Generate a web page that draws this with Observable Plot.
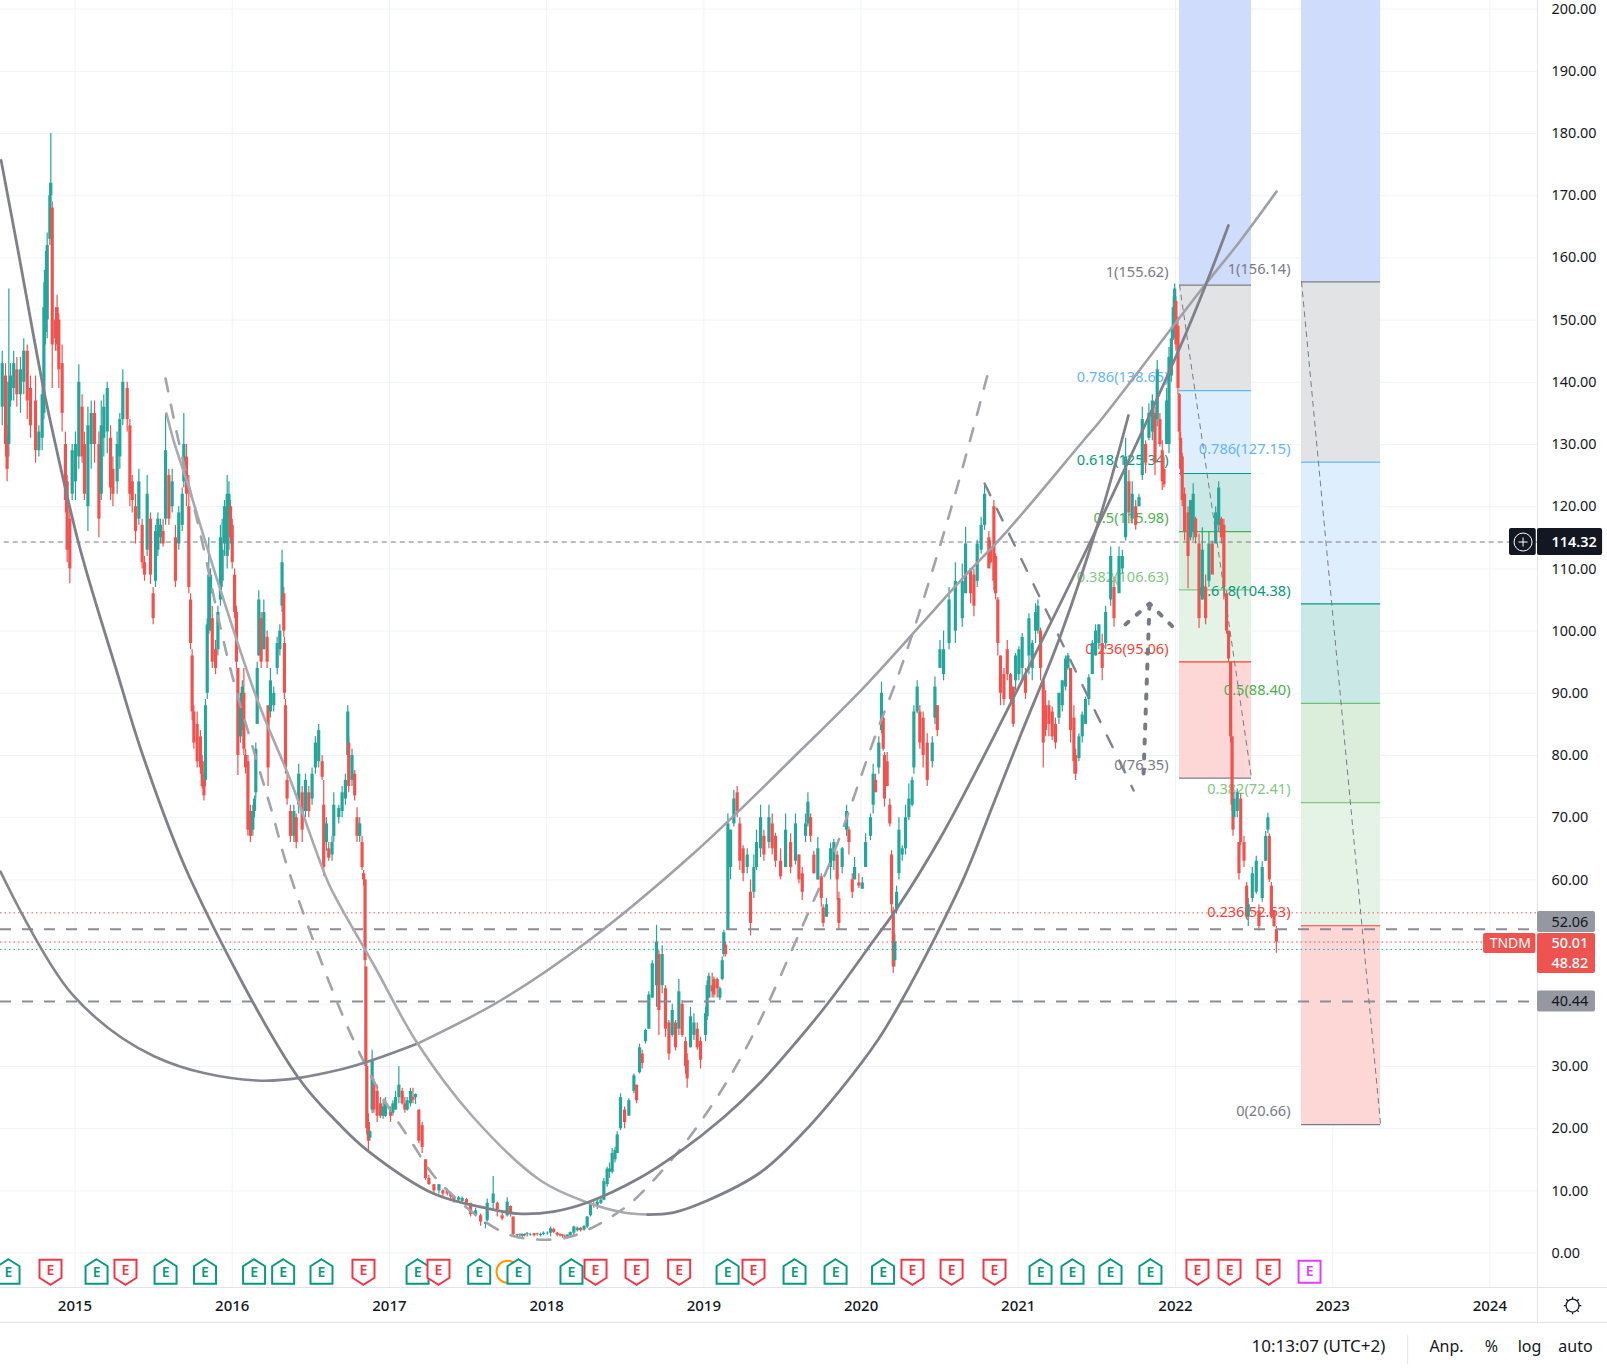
<!DOCTYPE html>
<html><head><meta charset="utf-8">
<style>html,body{margin:0;padding:0;background:#fff}svg{display:block}</style>
<script src="https://cdn.jsdelivr.net/npm/d3@7"></script>
<script src="https://cdn.jsdelivr.net/npm/@observablehq/plot@0.6"></script>
</head><body><div id="chart"></div>
<script>
// candle rows: [fraction of year, open, close, high, low]
const bars2014=[[.537,136,143,145,133],[.558,141,130,143,128],[.568,131,126,133,124],[.579,130,140,155,128],[.59,137,141,143,136],[.61,139,143,145,137],[.63,142,138,144,136],[.653,138,142,144,135],[.674,140,145,147,138],[.696,145,137,146,134],[.717,139,133,141,131],[.749,137,129,141,127],[.77,129,132,133,128],[.791,131,138,140,129],[.802,135,152,156,134],[.812,148,158,161,146],[.823,150,162,164,147],[.84,163,170,172,162],[.846,170,172,180,169],[.855,168,146,169,139],[.876,150,147,152,145],[.886,152,146,154,145],[.897,150,142,151,139],[.918,143,135,146,132],[.939,130,121,132,119],[.95,124,113,125,111],[.967,118,110,120,107.6],[.982,122,129,130,121]];
const bars2015=[[.003,124,130,132,121],[.024,128,140,142.8,126],[.045,136,128,138,127],[.06,130,122,132,121],[.082,120,133,136,116],[.103,130,135,137,126],[.124,135,130,137,127],[.152,130,118,132,115],[.167,122,133,137,121],[.183,131,136,138,128],[.205,132,139,140,128.5],[.226,131,123,133,121],[.241,126,122,128,120],[.268,124,130,132,122],[.285,128,134,135,126],[.304,134,140,142,133],[.332,139,134,140,132],[.349,133,122,134,120],[.364,124,121,125,119],[.385,120,116,122,114],[.406,118,124,126,117],[.427,117,111,118,110],[.442,111,109,112,108],[.459,113,122,125,112],[.48,118,109,119,107.5],[.497,106,102,107,101],[.512,108,116,117,107],[.527,113,118,119,112],[.544,115,117,118,114],[.56,116,114,118,113.5],[.576,118,129,135,117],[.597,125,118,126,117],[.618,120,124,126,119],[.639,115,108,117,107],[.66,114,119,120,113],[.682,117,122,123,116],[.692,124,130,135,123],[.709,128,122,130,120],[.724,120,107,125,106],[.735,105,98,106,97],[.745,96,87,97,85.6],[.756,87,82,88,81],[.777,85,79,87,78],[.798,83,78,84,77],[.809,79,75,80,74.6],[.82,76,73.5,77,72.7],[.83,76,88,89,75],[.841,90,101,102,89],[.851,100,109,115,99.5],[.862,106,109,110,100],[.873,102,95,104,94],[.894,97,94,98.5,93],[.909,97,103,104,96],[.925,105,115,117,104],[.936,108,113,118,107],[.951,114,120,121,112],[.968,112,122,125,110],[.979,118,122,124,113],[.989,120,115,121,114]];
const bars2016=[[0,117,111,118,110],[.015,109,103,110,102],[.027,103,95,104,94],[.036,94,80,94,76.8],[.053,83,89,90,82],[.064,85,91,92,84],[.074,90,81,94,80],[.085,80,78,81,77],[.1,79,68,80,67],[.116,71,67,72,66],[.131,68,71,72,67],[.142,71,73,73.5,70],[.15,74,81,82,73],[.159,85,94,95,85],[.169,96,105,106.5,96],[.184,102,95,103,94],[.201,97,103,105,97],[.222,99,95,100,94],[.228,88,78,88,75],[.243,87,92,94,86],[.264,88,90,91,87],[.286,94,98,99,93],[.303,97,100,101,96],[.317,104,111,113,103],[.328,106,100,107,99],[.332,98,90,99,89],[.339,88,78,89,77],[.349,76,73,77,72],[.37,71,67,72,66],[.392,67,71,72,66],[.407,70,66,70.6,65],[.423,72,77,78.6,70.6],[.445,74,68,75,66],[.466,71,76,77,70],[.487,74,71,75,70],[.508,73,77,78,72],[.529,78,82,83,77],[.55,79,84,85,78],[.572,79,76.5,80,76],[.582,72,62,76,60.6],[.599,66,69,70,64.6],[.614,65,63.5,66,63],[.635,64,66,67,63],[.646,67,72,74,66],[.678,70,71.5,72,69],[.699,71,74,75,70],[.72,73,76,77,72],[.735,80,87,88,80],[.741,82,75,83,74],[.762,76,80,81,75],[.779,77,73.5,77.6,72.7],[.794,70,67,71.6,66],[.811,67,69,70,66],[.826,66,62,67,61.5],[.836,61,60,61.5,59],[.845,60,47,60,46],[.85,46,30,46,30],[.856,30,20,30,19],[.866,21,18,22.4,16.5],[.876,18.5,19.5,19.7,18],[.89,23,31,32.6,22.4],[.901,27,23,28,22.5],[.922,26,22,27,21],[.943,24,22,25,21.6],[.96,22,23.5,24.5,21.5],[.975,22,24,25,21.8]];
const bars2017=[[.007,23,22,23.5,21],[.022,22.5,24,24.5,22],[.039,23,25,26,23],[.06,25,27,30,24],[.081,26,24,26.5,23.8],[.098,24,23,25,22.5],[.113,23,24.5,25,22.8],[.134,24,26,26.5,23.5],[.15,25,24.6,26.5,24],[.166,25,25.5,25.6,23.9],[.187,23,18,23,17.6],[.208,20.5,17,21,16],[.23,15,12,15,11.7],[.251,12,11,12.5,10.9],[.283,11,10,11,9.5],[.315,10,11,11,9.5],[.34,10,9.5,10.2,9.1],[.368,10,9.5,10.3,9.2],[.39,9.5,9,9.8,8.6],[.41,9,8.5,9.2,8],[.44,8.5,8.9,9.1,8.3],[.463,8.3,8.8,9,8.2],[.49,8.6,8,8.8,7.6],[.516,8,6.2,8,5.8],[.548,6,6.8,7.2,5.8],[.58,6,5,6.3,4.3],[.611,4.6,4.9,5,3.9],[.622,5.2,8,8.7,5],[.66,8,9.5,12.3,7],[.686,8,7,8.2,5.8],[.717,6,5.5,6.8,5.2],[.749,6,8.2,8.9,5.8],[.77,7.5,6.2,7.6,5.8],[.787,5.8,3,5.8,2.6],[.813,3,2.8,3,2.5],[.83,2.8,2.9,3.1,2.6],[.845,2.7,3,3.1,2.5],[.86,3,2.8,3.1,2.6],[.876,3,3.1,3.3,2.6],[.895,2.9,3,3.2,2.7],[.92,3.1,2.8,3.2,2.6],[.94,3.1,3,3.2,2.7],[.961,2.8,3,3.2,2.6],[.98,3,3.2,3.4,2.8]];
const bars2018=[[.005,3.1,3.2,3.4,2.9],[.025,3.2,3.9,4.2,2.6],[.045,3.8,3.3,4,3.1],[.067,3.2,2.9,3.3,2.6],[.085,3,2.8,3.1,2.6],[.1,2.9,2.7,3,2.4],[.115,2.7,2.6,2.9,2.4],[.131,2.6,2.9,2.9,2.3],[.15,2.8,3.3,3.4,2.6],[.173,3.2,4.2,4.3,2.8],[.195,3.6,4,4.2,3.4],[.216,4,3.6,4.1,3.4],[.238,3.7,4.3,4.4,3.5],[.258,4.2,5.8,5.9,3.9],[.279,6,8,8.1,5.8],[.3,7.8,7.6,8.2,7.2],[.322,7.5,8.2,8.5,7],[.345,8,8.5,9,7.8],[.364,8.5,11.5,12,8.4],[.385,11,13.5,13.8,10.6],[.4,13,13.5,14.5,12],[.417,13,16,16.8,12.7],[.435,15,16.5,17,14.5],[.449,16,19,19.5,16],[.47,20,25,25.6,19.7],[.496,23,21,23.5,20],[.523,22,24.5,24.8,22.4],[.555,26,28.5,28.8,25.6],[.572,27,24.5,27,24],[.591,29,33,33.6,28.8],[.608,32,30.5,32.6,29.6],[.629,34,35.8,36,33.6],[.65,36,41.5,42,36],[.672,41,46.5,47,41],[.699,43,50,52.7,39.5],[.714,48,39,48.6,35],[.735,43,48,49.4,41.7],[.756,42.5,36,43,34.7],[.778,37,32,37.4,31],[.799,35,39,40,34.7],[.82,37,33,37.4,32.5],[.841,36,42,44,35],[.862,40,35,40.6,34.7],[.884,34,30,34.7,28.8],[.894,31,28,32,26.5],[.915,33,38,39.5,33],[.937,35,37,38.5,34.2],[.958,36,33,37,32.6],[.979,34,31,34.7,29.6]];
const bars2019=[[.011,35,38.5,39.5,34],[.021,38,43,43.8,37.4],[.032,41,44.5,45,41],[.053,43,42,45,41],[.064,44,41.5,44.4,41],[.085,44,42.5,44.2,41],[.102,41,42.5,42.8,40.6],[.117,44,47,47.6,43.8],[.127,48,51.5,51.9,47.6],[.138,49.5,48,50,47.6],[.153,52,69,70.6,51.9],[.17,62,68,68,60],[.191,69,73,74.4,68.5],[.212,74,71,75,70],[.229,69,63,70,61.5],[.25,65,61,65.5,59.7],[.276,62,64,65,61],[.297,58,53,60,51],[.318,58,62,64,57],[.335,62,66,68,61.5],[.361,65,70,72,63.6],[.382,67,64,68,63],[.414,66,70,72,65],[.435,69,65,70.6,64],[.456,67,63,67.5,62],[.488,63,60.5,65,60],[.52,62,68,70.6,62],[.552,66,62,67.4,61],[.583,63,69,70.6,62.4],[.605,64,60,64,59.4],[.626,61,58,62,56.7],[.647,67,69,70.6,66],[.662,69,72.5,74,68.5],[.679,70,67,70.6,66],[.7,64,61,64.6,60.9],[.725,60,65,66.8,59.9],[.747,60.5,57,61,55.6],[.759,55.5,53,56,52.4],[.78,54,56,57,54],[.806,62,65,65.9,60],[.827,63,66,66.5,61.5],[.848,64,60,64.6,56.7],[.859,57,53,58,52],[.88,62,65,65.2,61],[.908,68,71,72,67],[.923,68,66,68.5,64],[.944,60,58,61,57],[.959,60,62,63.6,60],[.986,59.5,59,61,58.6]];
const bars2020=[[.008,58.5,59.5,60.4,58.5],[.029,62,66,67.4,62],[.06,67,70,70.6,66.3],[.077,72,77,78.6,70.6],[.092,76,74,77,74.3],[.113,78,82,83,77],[.13,84,90,91.8,83.5],[.141,86,81,87,80.7],[.149,80,73,80.5,71.7],[.166,79,75,80.5,75],[.183,72,69,73,68.5],[.194,64,56,64.7,54.5],[.205,55,46,55.6,45],[.215,47,50,51.3,46],[.226,55,58,59,54.5],[.241,61,68,70,60],[.262,64,65,65.5,63],[.283,65,70,72,64],[.304,70,73,75.4,69.5],[.325,72,76,76.5,71.7],[.336,78,87,88,77],[.357,87,91,92,86.7],[.374,87,82,88,81],[.395,86,80,87,78],[.421,82,76,83.5,75],[.453,79,82,83,78],[.47,86,91,92.6,85],[.485,88,84,88,83],[.502,94,97,98.5,94],[.525,93,97,100,92],[.56,98,105,107,97],[.6,100,108,111,98],[.644,102,108,110.8,100.6],[.665,106,114,116.7,106.5],[.697,110,106,110,104.4],[.718,109,104,110,102.3],[.739,108,114,114.6,107],[.764,113,117,118.3,112.4],[.786,117,122,123.7,116.2],[.813,115,110,116,110.3],[.824,113,111,114.5,110.8],[.845,120,108,121,106.5],[.856,112,106,112.4,105],[.87,105,98,105.4,96],[.887,96,90,96,88],[.909,93,89,94,88],[.93,97,93,98.5,92],[.951,93,89,93.2,88],[.968,91,85,91,84.5],[.983,92,96,96.4,90.4]];
const bars2021=[[.004,93,97,97.5,92],[.025,94,99,99.6,92],[.046,93,90,94,89],[.068,96,102,102.8,93],[.089,94,98,98.5,92],[.11,100,103,104.4,98],[.125,100,104,105,99.5],[.142,100,94,100.5,92],[.159,92,82,92,78],[.174,88,84,90.4,83],[.195,88,85,88.8,83],[.216,87,83,87.8,82.4],[.237,85,82,86,81],[.259,86,90,90,85],[.28,88,92,92,87],[.301,91,95.5,96,90.4],[.316,94,96,96.4,93.7],[.333,94,84,94,82],[.354,86,79,88,77],[.365,80,77,81,76],[.386,79.5,83,83.5,79],[.407,83,86.5,87,82],[.428,85,89,89.4,85.6],[.449,89,92.5,93,88],[.471,93,98,98.5,93.2],[.492,96,100,101,96],[.513,98,101,101,97],[.534,98,94,99.5,92],[.556,98,103,104,97],[.588,105,112,113.5,104],[.609,107,102,108.7,100.6],[.641,106,112,113.5,107],[.662,110,112,113,109.2],[.683,115,128,131,114.5],[.704,124,119,125.8,117.2],[.725,118,122,124,117.2],[.747,120,117,121,116.2],[.768,120,121.5,122,120],[.789,125,134,136,124.2],[.81,130,127,130.6,125.3],[.831,131,135,136.5,130.6],[.853,132,137,138,130.6],[.87,135,127,136,125],[.884,134,142,143.5,132.8],[.901,134,130,135,129.6],[.916,129,124,130.6,122.6],[.927,126,123.5,128,123],[.944,130,137,139,130.6],[.959,130,144,145.6,128.5],[.974,141,147,148.9,140],[.986,147,152,153.7,146.7],[.995,151,155,155.8,150.5]];
const bars2022=[[.003,153,146,153.7,145],[.016,149,139,150.5,138],[.024,138,132,138.2,130.6],[.033,131,126,132,125],[.043,128,121,128.6,120],[.058,122,116,123,114.5],[.08,119,112,120,106.8],[.096,115,121,121,114.5],[.113,116,122,123.7,114.5],[.128,118,115,118.3,114],[.15,114,102,115.6,100.4],[.171,105,113,116.6,105],[.192,107,102,109,101],[.213,108,114,116,107],[.234,114,109,114.5,109.2],[.256,114,119,120,114.5],[.275,117,123,124,116],[.292,118,115,118.3,114],[.308,117,107,118,105],[.325,106,100,106.5,99.5],[.338,100,95.5,100,95],[.351,95,83,95,82],[.36,83,72,83,71],[.366,72,68,73,67],[.372,70,73,74,70],[.393,71,74,74.6,70],[.404,66,61,66,60],[.415,73,66,73.9,65.5],[.436,66,63,67,62],[.453,59,54.5,59.6,53.7],[.463,54,56,57,52.5],[.489,57,61,62,56.4],[.514,58,63,63.8,57.7],[.531,55,52.5,56,51.8],[.552,57,62,62.9,56.4],[.574,63,67,67.8,62.9],[.588,68,70,70.7,67.4],[.597,67,60,67.4,59.6],[.61,59,54,59.6,53.7],[.627,55,52.5,55,52.4],[.642,52,50,52.5,48.2]];
const barYears=[[2014,bars2014],[2015,bars2015],[2016,bars2016],[2017,bars2017],[2018,bars2018],[2019,bars2019],[2020,bars2020],[2021,bars2021],[2022,bars2022]];

const yearTicks=[2015,2016,2017,2018,2019,2020,2021,2022,2023,2024];
const priceTicks=d3.range(0,201,10);

// Fibonacci retracements
const fibRatios=["1","0.786","0.618","0.5","0.382","0.236","0"];
const fibLevelsA=[155.62,138.65,125.34,115.98,106.63,95.06,76.35];
const fibLevelsB=[156.14,127.15,104.38,88.40,72.41,52.63,20.66];
const fibLine=["#787b86","#64b5f6","#089981","#4caf50","#81c784","#f44336","#787b86"];
const fibFill=["#e2e3e5","#deeefd","#cae9e6","#dbeedc","#e5f3e6","#fdd7d6"];
const fibSpanA=[2022.026,2022.484], fibSpanB=[2022.802,2023.305];
const fibTop="#d0dcfb";

// drawn curves: [year, price]
const curveDark=[[2014.53,175.66],[2014.634,161.67],[2014.793,139.81],[2014.87,130.64],[2015.035,112.96],[2015.27,93.18],[2015.436,79.68],[2015.735,60.06],[2016.415,28.39],[2016.689,20.51],[2016.861,16.49],[2017.28,9.58],[2017.624,7.17],[2017.815,6.36],[2018.044,6.68],[2018.26,8.13],[2018.597,12.15],[2018.833,16.02],[2019.125,21.8],[2019.36,27.42],[2019.596,34.18],[2019.793,40.29],[2020.08,50.25],[2020.232,55.56],[2020.506,66.82],[2020.76,78.87],[2020.97,89.32],[2021.161,98.97],[2021.523,117.78],[2022.02,145.11],[2022.191,155.56],[2022.337,165.21]];
const curveWideLeft=[[2014.526,61.35],[2014.984,41.57],[2015.506,31.61],[2016.155,27.75],[2016.689,29.52],[2017.179,33.69]];
const curveWideRight=[[2017.179,33.69],[2017.707,40.61],[2018.26,50.09],[2018.934,64.24],[2019.615,80.8],[2020.041,91.57],[2020.633,108.13],[2020.932,116.17],[2021.415,130.64],[2021.523,133.86],[2022.16,154.76],[2022.414,162.8],[2022.643,170.67]];
const curveLightLeft=[[2015.582,134.98],[2015.627,130.64],[2015.716,123.73],[2015.906,108.13],[2016.161,88.84],[2016.371,75.97],[2016.613,59.42],[2016.689,55.72],[2016.899,46.4],[2017.179,33.69],[2017.535,21.8],[2017.961,11.67],[2018.26,8.13],[2018.489,6.52],[2018.642,6.2]];
const curveDarkRight=[[2018.642,6.2],[2018.807,6.52],[2019.023,8.45],[2019.36,12.96],[2019.615,18.9],[2019.87,26.3],[2020.105,34.18],[2020.251,40.29],[2020.461,50.25],[2020.652,60.2],[2020.843,72.28],[2021.014,83.21],[2021.269,99.29],[2021.523,118.58],[2021.701,134.66]];
const curveDashed=[[2015.576,140.61],[2015.658,130.64],[2015.817,113.44],[2015.925,100.58],[2016.008,92.05],[2016.161,78.71],[2016.256,70.67],[2016.352,61.99],[2016.708,37.88],[2016.943,25.66],[2017.134,18.1],[2017.325,11.19],[2017.726,3.3],[2017.942,2.19],[2018.133,2.51],[2018.279,3.95],[2018.425,6.05],[2018.553,8.45],[2018.807,15.37],[2018.998,21.8],[2019.189,29.35],[2019.348,36.91],[2019.615,51.87],[2019.825,64.24],[2020.08,82.41],[2020.27,95.27],[2020.569,119.39],[2020.817,142.38]];
const lineDashed=[[2020.786,123.73],[2021.734,74.37]];
const arrowShaft=[[2021.797,77.1],[2021.835,104.44]];
const arrowHead=[[2021.682,101.06],[2021.835,104.44],[2021.981,100.74]];

// earnings markers
const earnUp=[2014.577,2015.137,2015.576,2015.827,2016.139,2016.324,2016.568,2017.179,2017.571,2017.821,2018.158,2019.151,2019.577,2019.838,2020.14,2021.142,2021.345,2021.587,2021.841];
const earnDown=[2014.844,2015.321,2016.835,2017.312,2018.311,2018.572,2018.843,2019.316,2020.327,2020.576,2020.849,2022.14,2022.344,2022.592];
const earnNext=[2022.853];
const splitMark=[2017.751];
const earnPrice=-3;

// price lines and labels
const hLevels=[52.06,40.44];
const cursorPrice=114.32, lastPrice=50.01, lowPrice=48.82, dotHigh=54.7;

const teal="#26a69a", red="#ef5350", ink="#131722", greyBox="#9598a1", greyLine="#8c8c96";
const font="'Noto Sans',sans-serif";
const xMin=2014.526,xMax=2024.303,yMin=-5.53,yMax=201.38;
const axisLabelX=2024.392, boxRight=2024.672;

const bars=d3.sort(barYears.flatMap(([y,rows])=>rows.map(r=>({x:y+r[0],o:r[1],c:r[2],h:r[3],l:r[4]}))),d=>d.x);
const colorOf=d=>d.c>=d.o?teal:red;

const fibMarks=(levels,[x1,x2])=>{
  const bands=levels.slice(0,-1).map((v,i)=>({y1:v,y2:levels[i+1],f:fibFill[i]}));
  const rows=levels.map((v,i)=>({v,s:fibLine[i],t:`${fibRatios[i]}(${v.toFixed(2)})`}));
  return [
    Plot.rect([{y1:levels[0],y2:yMax}],{x1,x2,y1:"y1",y2:"y2",fill:fibTop}),
    Plot.rect(bands,{x1,x2,y1:"y1",y2:"y2",fill:"f"}),
    Plot.ruleY(rows,{y:"v",x1,x2,stroke:"s",strokeWidth:1.2}),
    Plot.text(rows,{x:x1,y:"v",text:"t",fill:"s",textAnchor:"end",dx:-11,dy:-13,fontSize:14.6})
  ];
};
const fibDiag=(levels,[x1,x2])=>Plot.line([[x1,levels[0]],[x2,levels[6]]],{stroke:"#787b86",strokeWidth:1,strokeDasharray:"5,5"});

const shape=pts=>({draw(c,size){const s=Math.sqrt(size/Math.PI)/10;pts.forEach(([a,b],i)=>i?c.lineTo(a*s,b*s):c.moveTo(a*s,b*s));c.closePath();}});
const house=shape([[0,-12.5],[11,-5.5],[11,12],[-11,12],[-11,-5.5]]);
const shield=shape([[-11,-12],[11,-12],[11,6],[0,13],[-11,6]]);
const square=shape([[-11,-11],[11,-11],[11,11],[-11,11]]);
const gear={draw(c,size){const r=Math.sqrt(size/Math.PI);c.moveTo(r,0);c.arc(0,0,r,0,2*Math.PI);for(let i=0;i<8;i++){const a=i*Math.PI/4;c.moveTo(r*Math.cos(a),r*Math.sin(a));c.lineTo(1.35*r*Math.cos(a),1.35*r*Math.sin(a));}}};
const plusRing={draw(c,size){const r=Math.sqrt(size/Math.PI);c.moveTo(r,0);c.arc(0,0,r,0,2*Math.PI);c.moveTo(-r*.5,0);c.lineTo(r*.5,0);c.moveTo(0,-r*.5);c.lineTo(0,r*.5);}};

const earnMarks=(xs,sym,col,dyE)=>[
  Plot.dot(xs,{x:d=>d,y:()=>earnPrice,symbol:sym,r:10,fill:"#fff",stroke:col,strokeWidth:2}),
  Plot.text(xs,{x:d=>d,y:()=>earnPrice,text:()=>"E",fill:col,fontSize:14,fontWeight:600,dy:dyE})
];
const curve=(pts,stroke,w,extra={})=>Plot.line(pts,{stroke,strokeWidth:w,curve:"catmull-rom",...extra});
const box=(x1,x2,y1,y2,fill)=>Plot.rect([0],{x1,x2,y1,y2,fill,rx:2});
const tag=(y,t,fill,weight=400,x=axisLabelX)=>Plot.text([t],{x:()=>x,y:()=>y,text:d=>d,fill,textAnchor:"start",fontSize:14.4,fontWeight:weight});
const foot=(t,dx,opts={})=>Plot.text([t],{text:d=>d,frameAnchor:"bottom-left",dx,dy:64,textAnchor:"middle",fill:ink,fontSize:16,...opts});

const chart=Plot.plot({
  width:1607,height:1370,marginLeft:0,marginTop:0,marginRight:70,marginBottom:83,
  style:{fontFamily:font,background:"#fff",overflow:"visible"},
  x:{type:"linear",domain:[xMin,xMax],range:[0,1537]},
  y:{type:"linear",domain:[yMin,yMax],range:[1287,0]},
  color:{type:"identity"},
  marks:[
    Plot.ruleY(priceTicks,{stroke:"#f0f3fa"}),
    Plot.ruleX(yearTicks,{stroke:"#f0f3fa"}),
    ...fibMarks(fibLevelsA,fibSpanA),
    ...fibMarks(fibLevelsB,fibSpanB),
    Plot.ruleX(bars,{x:"x",y1:"l",y2:"h",stroke:colorOf,strokeWidth:1.2}),
    Plot.ruleX(bars,{x:"x",y1:"o",y2:"c",stroke:colorOf,strokeWidth:3.2}),
    Plot.ruleY([dotHigh],{x1:xMin,x2:xMax,stroke:red,strokeDasharray:"1.5,3",strokeWidth:1}),
    Plot.ruleY([lastPrice],{x1:xMin,x2:2023.96,stroke:red,strokeDasharray:"1.5,3",strokeWidth:1}),
    Plot.ruleY([lowPrice],{x1:xMin,x2:2023.96,stroke:"#2196f3",strokeDasharray:"1.5,3",strokeWidth:1}),
    Plot.ruleY(hLevels,{x1:xMin,x2:xMax,stroke:greyLine,strokeWidth:2,strokeDasharray:"11,11"}),
    Plot.ruleY([cursorPrice],{x1:2014.55,x2:xMax,stroke:"#787b86",strokeWidth:1,strokeDasharray:"5,4"}),
    curve(curveDashed,"#a3a3ab",2.6,{strokeDasharray:"13,14"}),
    curve(curveWideLeft,"#85858f",2.6),
    curve(curveWideRight,"#a0a0a8",2.6),
    curve(curveLightLeft,"#a9a9b0",2.6),
    curve(curveDarkRight,"#80808a",2.8),
    curve(curveDark,"#80808a",2.8),
    Plot.line(lineDashed,{stroke:"#83838d",strokeWidth:2.4,strokeDasharray:"13,15"}),
    Plot.line(arrowShaft,{stroke:"#787b86",strokeWidth:4,strokeDasharray:"4,11"}),
    Plot.line(arrowHead,{stroke:"#787b86",strokeWidth:4,strokeDasharray:"4,11"}),
    fibDiag(fibLevelsA,fibSpanA),
    fibDiag(fibLevelsB,fibSpanB),
    Plot.dot(splitMark,{x:d=>d,y:()=>earnPrice,r:11,fill:"#fff",stroke:"#ff9800",strokeWidth:2}),
    ...earnMarks(earnUp,house,"#089981",1),
    ...earnMarks(earnDown,shield,"#f23645",-1),
    ...earnMarks(earnNext,square,"#e040fb",0),
    Plot.axisY(priceTicks,{anchor:"right",tickSize:0,tickPadding:14,tickFormat:d=>d.toFixed(2),fontSize:14.4,fill:ink,label:null}),
    Plot.axisX(yearTicks,{anchor:"bottom",tickSize:0,tickPadding:13,tickFormat:d=>String(d),fontSize:15,fill:ink,fontWeight:500,label:null}),
    Plot.ruleY([yMin],{x1:xMin,x2:2024.75,stroke:"#e0e3eb"}),
    Plot.ruleY([-11.16],{x1:xMin,x2:2024.75,stroke:"#e0e3eb"}),
    Plot.ruleX([xMax],{y1:-11.16,y2:yMax,stroke:"#e0e3eb"}),
    box(2024.125,2024.295,112.15,116.5,ink),
    box(xMax,2024.717,112.15,116.5,ink),
    Plot.dot([0],{x:()=>2024.211,y:()=>cursorPrice,symbol:plusRing,r:9,fill:"none",stroke:"#fff",strokeWidth:1}),
    tag(cursorPrice,cursorPrice.toFixed(2),"#fff",600),
    box(xMax,boxRight,51.54,54.92,greyBox),
    tag(53.23,hLevels[0].toFixed(2),ink),
    box(2023.96,xMax-.01,48.16,51.38,red),
    Plot.text(["TNDM"],{x:()=>2024.13,y:()=>49.77,text:d=>d,fill:"#fff",fontSize:14}),
    box(xMax,boxRight,44.95,51.38,red),
    tag(49.77,lastPrice.toFixed(2),"#fff",500),
    tag(46.56,lowPrice.toFixed(2),"#fff",500),
    box(xMax,boxRight,38.76,42.14,greyBox),
    tag(hLevels[1],hLevels[1].toFixed(2),ink),
    Plot.dot([0],{x:()=>2024.526,y:()=>-8.43,symbol:gear,r:6.5,fill:"none",stroke:ink,strokeWidth:1.3}),
    foot("10:13:07 (UTC+2)",1318,{fontSize:17}),
    foot("Anp.",1446),
    foot("%",1491),
    foot("log",1529),
    foot("auto",1575),
    Plot.ruleX([2023.477],{y1:-13.3,y2:-17.9,stroke:"#e0e3eb"})
  ]
});
document.getElementById("chart").append(chart);
</script></body></html>
